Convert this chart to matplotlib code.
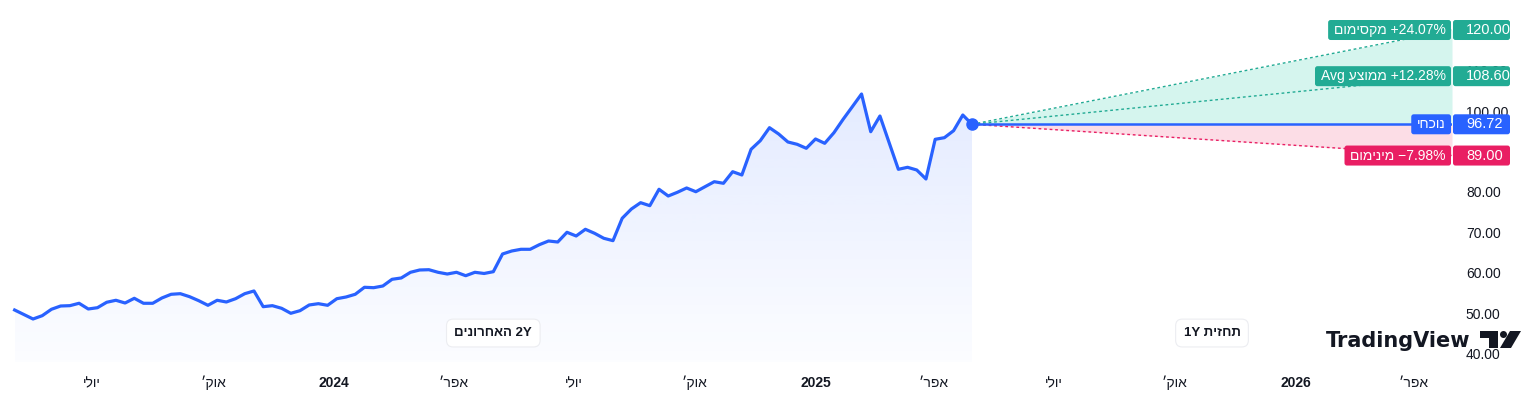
import numpy as np
import pandas as pd
import matplotlib
matplotlib.use("Agg")
import matplotlib.pyplot as plt
import matplotlib.dates as mdates
from matplotlib.colors import to_rgb
from matplotlib.patches import FancyBboxPatch, Polygon, Circle
from matplotlib.transforms import IdentityTransform, blended_transform_factory

plt.rcParams['font.family'] = ['Liberation Sans', 'DejaVu Sans']

# weekly closes over the last 2 years
price = [50.86, 49.75, 48.64, 49.46, 51.04, 51.85, 51.93, 52.52, 51.11, 51.43,
         52.77, 53.26, 52.59, 53.75, 52.52, 52.52, 53.83, 54.74, 54.89, 54.15,
         53.16, 52.02, 53.26, 52.84, 53.65, 54.89, 55.56, 51.68, 51.93, 51.28,
         50.05, 50.69, 52.10, 52.42, 52.02, 53.65, 54.07, 54.74, 56.47, 56.37,
         56.79, 58.44, 58.77, 60.17, 60.74, 60.81, 60.17, 59.75, 60.17, 59.33,
         60.17, 59.88, 60.32, 64.69, 65.43, 65.85, 65.85, 66.99, 67.90, 67.65,
         70.05, 69.14, 70.79, 69.80, 68.57, 67.98, 73.51, 75.80, 77.36, 76.62,
         80.67, 79.01, 79.93, 80.99, 80.07, 81.31, 82.54, 82.15, 85.01, 84.20,
         90.54, 92.67, 95.88, 94.32, 92.35, 91.78, 90.79, 93.09, 92.02, 94.64,
         97.95, 101.06, 104.20, 94.89, 98.77, 92.17, 85.60, 86.10, 85.43, 83.21,
         93.01, 93.41, 95.14, 99.01, 96.72]
last_date = '2025-04-30'

# 1Y price targets
target_max = 120.00
target_avg = 108.60
target_min = 89.00

# labels (hebrew written in visual order, matplotlib has no bidi)
lbl_max = 'םומיסקמ'
lbl_avg = 'Avg עצוממ'
lbl_cur = 'יחכונ'
lbl_min = 'םומינימ'
lbl_hist = 'םינורחאה 2Y'
lbl_fcst = '1Y תיזחת'

tick_dates = ['2023-07-01', '2023-10-01', '2024-01-01', '2024-04-01', '2024-07-01', '2024-10-01',
              '2025-01-01', '2025-04-01', '2025-07-01', '2025-10-01', '2026-01-01', '2026-04-01']
tick_labels = ['ילוי', '׳קוא', '2024', '׳רפא', 'ילוי', '׳קוא',
               '2025', '׳רפא', 'ילוי', '׳קוא', '2026', '׳רפא']
yticks = [40, 50, 60, 70, 80, 90, 100, 110, 120]

BLUE = '#2962FF'
TEAL = '#22AB94'
RED = '#E91E63'
TXT = '#131722'

W, H = 1534, 416
fig = plt.figure(figsize=(W / 100, H / 100), dpi=100)
ax = fig.add_axes([12 / W, 54 / H, 1440 / W, 362 / H])

dates = pd.date_range(end=last_date, periods=len(price), freq='7D')
cur_date = dates[-1]
end_date = cur_date + pd.DateOffset(years=1)
current = price[-1]
ylo, yhi = 38.02, 127.41

xnum = mdates.date2num(dates)

# gradient area under the history line
grad = np.zeros((256, 1, 4))
grad[..., :3] = to_rgb(BLUE)
grad[:, 0, 3] = np.linspace(0.015, 0.13, 256)
im = ax.imshow(grad, extent=[xnum[0], xnum[-1], ylo, max(price)], origin='lower',
               aspect='auto', zorder=1, interpolation='bilinear')
verts = list(zip(xnum, price)) + [(xnum[-1], ylo), (xnum[0], ylo)]
clip = Polygon(verts, closed=True, facecolor='none', edgecolor='none', transform=ax.transData)
ax.add_patch(clip)
im.set_clip_path(clip)

ax.plot(dates, price, color=BLUE, lw=2.3, zorder=4, solid_joinstyle='round')

# forecast cone
fx = [cur_date, end_date]
ax.fill_between(fx, [current, current], [current, target_max], color='#D5F5EE', lw=0, zorder=2)
ax.fill_between(fx, [current, current], [current, target_min], color='#FCDDE6', lw=0, zorder=2)
ax.plot(fx, [current, target_max], color=TEAL, lw=1.0, ls=(0, (2, 2)), zorder=3)
ax.plot(fx, [current, target_avg], color=TEAL, lw=1.0, ls=(0, (2, 2)), zorder=3)
ax.plot(fx, [current, target_min], color=RED, lw=1.0, ls=(0, (2, 2)), zorder=3)
ax.plot(fx, [current, current], color=BLUE, lw=1.8, zorder=4)
ax.plot([cur_date], [current], 'o', color=BLUE, ms=8, zorder=5)

ax.set_xlim(dates[0] - pd.Timedelta(days=2), end_date)
ax.set_ylim(ylo, yhi)

for s in ax.spines.values():
    s.set_visible(False)
ax.yaxis.tick_right()
ax.set_yticks(yticks)
ax.set_yticklabels([f'{v:.2f}' for v in yticks])
ax.tick_params(axis='y', length=0, pad=10, labelsize=10, labelcolor=TXT)
ax.set_xticks(pd.to_datetime(tick_dates))
ax.set_xticklabels(tick_labels)
ax.tick_params(axis='x', length=0, pad=10, labelsize=10, labelcolor=TXT)
for t, s in zip(ax.get_xticklabels(), tick_labels):
    if s.isdigit():
        t.set_fontweight('bold')

# period pills
trans = blended_transform_factory(ax.transData, ax.transAxes)
mid_hist = dates[0] + (cur_date - dates[0]) / 2
mid_fcst = cur_date + (end_date - cur_date) / 2
for xm, s in [(mid_hist, lbl_hist), (mid_fcst, lbl_fcst)]:
    ax.text(xm, 0.08, s, transform=trans, ha='center', va='center', fontsize=9.5,
            fontweight='bold', color=TXT, zorder=6,
            bbox=dict(boxstyle='round,pad=0.6,rounding_size=0.5', fc='white', ec='#ECEDF1', lw=0.8))

# price labels on the right
fig.canvas.draw()
renderer = fig.canvas.get_renderer()
idt = IdentityTransform()
rows = [
    (target_max, f'{lbl_max} {(target_max / current - 1) * 100:+.2f}%', TEAL),
    (target_avg, f'{lbl_avg} {(target_avg / current - 1) * 100:+.2f}%', TEAL),
    (current, lbl_cur, BLUE),
    (target_min, f'{lbl_min} \u2212{abs(target_min / current - 1) * 100:.2f}%', RED),
]
for v, s, c in rows:
    yd = ax.transData.transform((xnum[-1], v))[1]
    fig.add_artist(FancyBboxPatch((1453, yd - 10), 57, 20, boxstyle='round,pad=0,rounding_size=2.5',
                                  transform=idt, fc=c, ec='none', zorder=5))
    fig.text(1466, yd, f'{v:.2f}', transform=idt, ha='left', va='center', fontsize=10.5,
             color='white', zorder=6)
    t = fig.text(1446, yd, s, transform=idt, ha='right', va='center', fontsize=10,
                 color='white', zorder=6)
    bb = t.get_window_extent(renderer)
    fig.add_artist(FancyBboxPatch((bb.x0 - 6, yd - 10), 1451 - (bb.x0 - 6), 20,
                                  boxstyle='round,pad=0,rounding_size=2.5',
                                  transform=idt, fc=c, ec='none', zorder=5))

# TradingView watermark
fig.text(1326, H - 341, 'TradingView', transform=idt, ha='left', va='center', fontsize=15,
         fontweight='bold', family='DejaVu Sans', color=TXT, zorder=6)
fig.add_artist(Polygon([(1480, H - 331), (1498, H - 331), (1498, H - 348), (1489, H - 348),
                        (1489, H - 338), (1480, H - 338)], closed=True, transform=idt,
                       fc=TXT, ec='none', zorder=6))
fig.add_artist(Circle((1503.5, H - 334.5), 3.5, transform=idt, fc=TXT, ec='none', zorder=6))
fig.add_artist(Polygon([(1510, H - 331), (1521, H - 331), (1511, H - 348), (1500, H - 348)],
                       closed=True, transform=idt, fc=TXT, ec='none', zorder=6))

fig.savefig('out.png', dpi=100)
